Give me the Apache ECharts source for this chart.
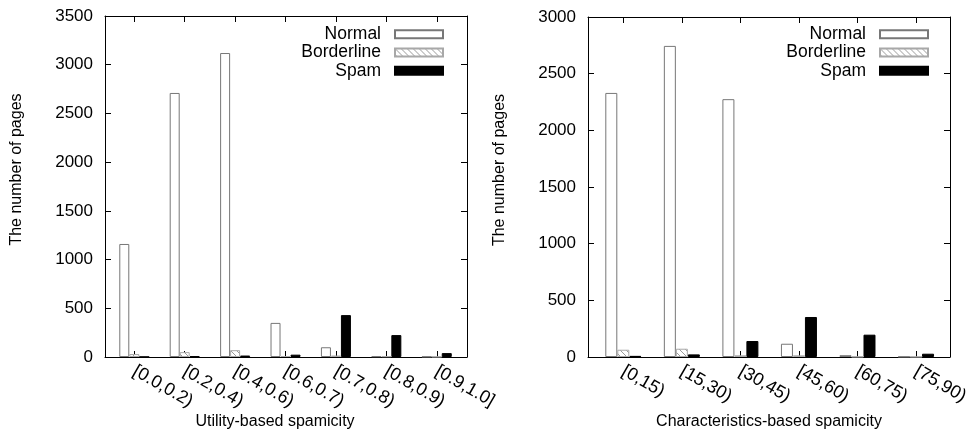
<!DOCTYPE html>
<html>
<head>
<meta charset="utf-8">
<script src="https://cdn.jsdelivr.net/npm/echarts@6/dist/echarts.min.js"></script>
<style>
html,body{margin:0;padding:0;background:#fff;}
#chart{width:967px;height:434px;}
</style>
</head>
<body>
<div id="chart"></div>
<script>
// ---- data ----
const utilCats = ['[0.0,0.2)', '[0.2,0.4)', '[0.4,0.6)', '[0.6,0.7)', '[0.7,0.8)', '[0.8,0.9)', '[0.9,1.0]'];
const utilNormal = [1160, 2710, 3120, 350, 100, 8, 4];
const utilBorder = [30, 50, 70, 10, 15, 8, 3];
const utilSpam = [2, 8, 15, 24, 430, 225, 40];

const charCats = ['[0,15)', '[15,30)', '[30,45)', '[45,60)', '[60,75)', '[75,90)'];
const charNormal = [2330, 2745, 2275, 117, 16, 3];
const charBorder = [64, 73, 15, 15, 3, 2];
const charSpam = [10, 23, 141, 353, 197, 29];

const utilYTicks = [0, 500, 1000, 1500, 2000, 2500, 3000, 3500];
const charYTicks = [0, 500, 1000, 1500, 2000, 2500, 3000];

const seriesNames = ['Normal', 'Borderline', 'Spam'];

// ---- hatch pattern ----
function makeHatch() {
  const c = document.createElement('canvas');
  c.width = 6; c.height = 6;
  const g = c.getContext('2d');
  g.fillStyle = '#ffffff';
  g.fillRect(0, 0, 6, 6);
  g.strokeStyle = '#9a9a9a';
  g.lineWidth = 1;
  g.beginPath();
  g.moveTo(-1, -1); g.lineTo(7, 7);
  g.moveTo(-4, 2); g.lineTo(4, 10);
  g.moveTo(2, -4); g.lineTo(10, 4);
  g.stroke();
  return c;
}
const hatch = makeHatch();

const FONT = "'Liberation Sans', Arial, Helvetica, sans-serif";
const styles = [
  { color: '#ffffff', borderColor: '#777777', borderWidth: 1 },
  { color: { image: hatch, repeat: 'repeat' }, borderColor: '#a8a8a8', borderWidth: 1 },
  { color: '#000000', borderColor: '#000000', borderWidth: 1 }
];

function idx(n) { const a = []; for (let i = 0; i < n; i++) a.push(i); return a; }

function xAxes(gridIndex, cats, min, max, name, namePad) {
  const ticks = idx(cats.length);
  return [{
    type: 'value', gridIndex, min, max, position: 'bottom',
    splitLine: { show: false },
    axisLine: { show: true, onZero: false, lineStyle: { color: '#000', width: 1 } },
    axisTick: { show: true, inside: true, length: 6, customValues: ticks, lineStyle: { color: '#000' } },
    axisLabel: {
      customValues: ticks, rotate: -30, margin: 13, fontSize: 18, color: '#000', fontFamily: FONT,
      formatter: v => cats[Math.round(v)] || ''
    },
    name, nameLocation: 'middle', nameGap: 57, nameMoveOverlap: false,
    nameTextStyle: { fontSize: 16, color: '#000', fontFamily: FONT, padding: namePad }
  }, {
    type: 'value', gridIndex, min, max, position: 'top',
    splitLine: { show: false },
    axisLine: { show: true, onZero: false, lineStyle: { color: '#000', width: 1 } },
    axisTick: { show: true, inside: true, length: 6, customValues: ticks, lineStyle: { color: '#000' } },
    axisLabel: { show: false }
  }];
}

function yAxes(gridIndex, ticks) {
  const max = ticks[ticks.length - 1];
  const interval = ticks[1] - ticks[0];
  return [{
    type: 'value', gridIndex, min: ticks[0], max, interval, position: 'left',
    splitLine: { show: false },
    axisLine: { show: true, onZero: false, lineStyle: { color: '#000', width: 1 } },
    axisTick: { show: true, inside: true, length: 6, lineStyle: { color: '#000' } },
    axisLabel: { margin: 12, fontSize: 17, color: '#000', fontFamily: FONT, formatter: v => String(v) },
    name: 'The number of pages', nameLocation: 'middle', nameGap: 80, nameMoveOverlap: false,
    nameTextStyle: { fontSize: 16, color: '#000', fontFamily: FONT, padding: [0, 0, 0, 34] }
  }, {
    type: 'value', gridIndex, min: ticks[0], max, interval, position: 'right',
    splitLine: { show: false },
    axisLine: { show: true, onZero: false, lineStyle: { color: '#000', width: 1 } },
    axisTick: { show: true, inside: true, length: 6, lineStyle: { color: '#000' } },
    axisLabel: { show: false }
  }];
}

function barSeries(xi, yi, arrays, width) {
  return arrays.map((arr, k) => ({
    type: 'bar', name: seriesNames[k], xAxisIndex: xi, yAxisIndex: yi,
    barWidth: width, barGap: '0%',
    itemStyle: styles[k],
    emphasis: { disabled: true },
    animation: false,
    data: arr.map((v, i) => [i, v])
  }));
}

const legendCommon = {
  orient: 'vertical', align: 'right', top: 20,
  itemWidth: 48, itemHeight: 8, itemGap: 0,
  icon: 'rect',
  textStyle: { fontSize: 17.5, color: '#000', fontFamily: FONT, lineHeight: 18.3, padding: [0, 9, 0, 0] },
  selectedMode: false,
  data: seriesNames
};

const chart = echarts.init(document.getElementById('chart'), null, { renderer: 'canvas' });
chart.setOption({
  animation: false,
  backgroundColor: '#fff',
  grid: [
    { left: 105, top: 16, width: 362, height: 341, containLabel: false, outerBoundsMode: 'none' },
    { left: 588, top: 17, width: 362, height: 340, containLabel: false, outerBoundsMode: 'none' }
  ],
  legend: [
    Object.assign({}, legendCommon, { right: 518 }),
    Object.assign({}, legendCommon, { right: 33 })
  ],
  xAxis: [].concat(
    xAxes(0, utilCats, -0.581, 6.6, 'Utility-based spamicity', [0, 22, 0, 0]),
    xAxes(1, charCats, -0.603, 5.58, 'Characteristics-based spamicity', [0, 0, 0, 0])
  ),
  yAxis: [].concat(yAxes(0, utilYTicks), yAxes(1, charYTicks)),
  series: [].concat(
    barSeries(0, 0, [utilNormal, utilBorder, utilSpam], 10),
    barSeries(2, 2, [charNormal, charBorder, charSpam], 12)
  )
});
</script>
</body>
</html>
